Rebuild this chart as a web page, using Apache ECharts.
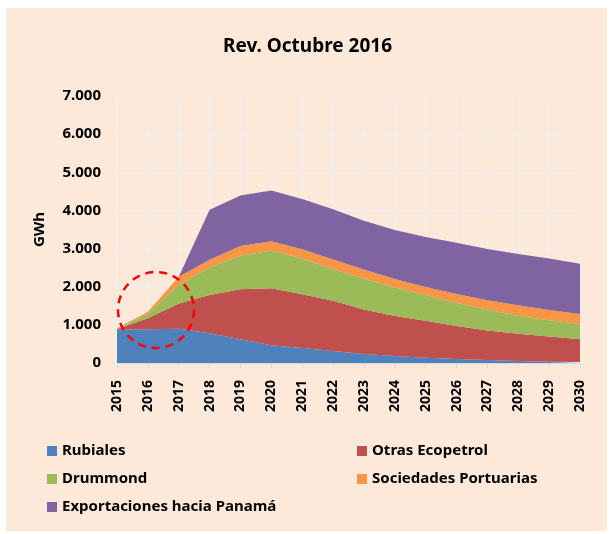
<!DOCTYPE html>
<html>
<head>
<meta charset="utf-8">
<script src="https://cdn.jsdelivr.net/npm/echarts@6/dist/echarts.min.js"></script>
<style>
  html, body { margin: 0; padding: 0; background: #fff; }
  #chart { width: 615px; height: 534px; }
</style>
</head>
<body>
<div id="chart"></div>
<script>
// años del eje x
const years = ["2015", "2016", "2017", "2018", "2019", "2020", "2021", "2022",
  "2023", "2024", "2025", "2026", "2027", "2028", "2029", "2030"];

// GWh por fuente (apilado)
const rubiales = [870, 885, 900, 780, 620, 465, 390, 315, 236, 184, 140, 105, 79, 52, 35, 26];
const otrasEcopetrol = [20, 285, 660, 1005, 1315, 1495, 1415, 1315, 1164, 1051, 965, 865, 771, 718, 660, 594];
const drummond = [10, 120, 490, 725, 875, 990, 935, 830, 815, 745, 675, 605, 550, 465, 425, 405];
const sociedadesPortuarias = [10, 55, 210, 195, 260, 245, 245, 255, 235, 220, 215, 235, 245, 280, 270, 260];
const panama = [0, 0, 0, 1310, 1320, 1325, 1315, 1315, 1280, 1285, 1310, 1340, 1345, 1345, 1350, 1315];

const yTicks = [0, 1000, 2000, 3000, 4000, 5000, 6000, 7000];

const font = "'Noto Sans', sans-serif";
const myChart = echarts.init(document.getElementById("chart"));

function area(name, data, color) {
  return {
    name: name,
    type: "line",
    stack: "total",
    data: data,
    showSymbol: false,
    symbol: "none",
    lineStyle: { width: 0 },
    itemStyle: { color: color },
    areaStyle: { color: color, opacity: 1 },
  };
}

const option = {
  backgroundColor: "#ffffff",
  animation: false,
  title: {
    text: "Rev. Octubre 2016",
    left: "center",
    top: 32,
    textStyle: { fontFamily: font, fontSize: 19, fontWeight: "bold", color: "#000" },
  },
  legend: {
    left: 42,
    top: 437,
    width: 640,
    itemWidth: 10,
    itemHeight: 10,
    itemGap: 10,
    icon: "rect",
    textStyle: {
      fontFamily: font, fontSize: 15, fontWeight: "bold", color: "#000",
      width: 285, lineHeight: 18,
    },
    data: ["Rubiales", "Otras Ecopetrol", "Drummond", "Sociedades Portuarias",
      "Exportaciones hacia Panamá"],
  },
  grid: { left: 117, right: 35, top: 96, bottom: 171, containLabel: false },
  xAxis: {
    type: "category",
    data: years,
    boundaryGap: false,
    axisLine: { show: true, lineStyle: { color: "#d9d9d9", width: 1 } },
    axisTick: { show: true, length: 5, lineStyle: { color: "#d9d9d9" } },
    axisLabel: {
      rotate: 90, margin: 17, interval: 0,
      fontFamily: font, fontSize: 14, fontWeight: "bold", color: "#000",
    },
    splitLine: { show: true, lineStyle: { color: "#efefef", width: 1.5 } },
  },
  yAxis: {
    type: "value",
    min: yTicks[0],
    max: yTicks[yTicks.length - 1],
    interval: 1000,
    name: "GWh",
    nameLocation: "middle",
    nameRotate: 90,
    nameGap: 70,
    nameTextStyle: { fontFamily: font, fontSize: 15, fontWeight: "bold", color: "#000" },
    axisLine: { show: true, lineStyle: { color: "#efefef", width: 1.5 } },
    axisTick: { show: false },
    axisLabel: {
      margin: 16,
      fontFamily: font, fontSize: 15, fontWeight: "bold", color: "#000",
      formatter: (v) => (v === 0 ? "0" : v / 1000 + ".000"),
    },
    splitLine: { show: true, lineStyle: { color: "#efefef", width: 1.5 } },
  },
  graphic: [
    {
      type: "rect",
      z: -100,
      silent: true,
      shape: { x: 6, y: 8, width: 601, height: 523 },
      style: { fill: "#fde9d9" },
    },
    {
      // círculo de resaltado
      type: "circle",
      z: 100,
      silent: true,
      shape: { cx: 156, cy: 310, r: 38 },
      style: { fill: "none", stroke: "#ff0000", lineWidth: 2.5, lineDash: [8, 6] },
    },
  ],
  series: [
    area("Rubiales", rubiales, "#4f81bd"),
    area("Otras Ecopetrol", otrasEcopetrol, "#c0504d"),
    area("Drummond", drummond, "#9bbb59"),
    area("Sociedades Portuarias", sociedadesPortuarias, "#f79646"),
    area("Exportaciones hacia Panamá", panama, "#8064a2"),
  ],
};

myChart.setOption(option);
</script>
</body>
</html>
